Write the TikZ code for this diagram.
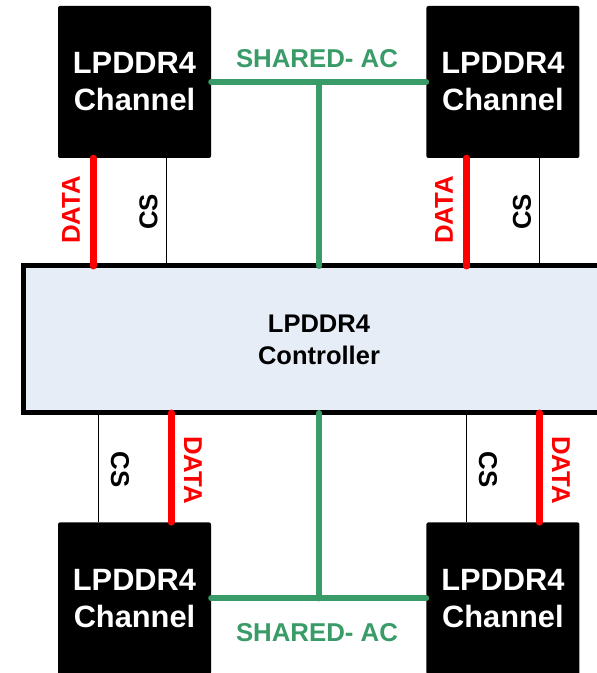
\documentclass[tikz,border=0pt]{standalone}
\usepackage{fontspec}
\setmainfont{Liberation Sans}
\usetikzlibrary{positioning}
\definecolor{acgreen}{RGB}{56,155,104}
\definecolor{datared}{RGB}{255,0,0}
\definecolor{ctrlfill}{RGB}{230,237,247}

\begin{document}
\begin{tikzpicture}[
    x=1pt, y=1pt,
    chanbox/.style={rectangle, rounded corners=2pt, fill=black, text=white,
                    align=center, font=\fontsize{30.8}{37}\selectfont\bfseries,
                    minimum width=153pt, minimum height=152pt, inner sep=0pt},
    ctrlbox/.style={rectangle, draw=black, line width=5pt, fill=ctrlfill,
                    align=center, font=\fontsize{25.5}{32}\selectfont\bfseries,
                    minimum width=592pt, minimum height=147pt, outer sep=0pt},
    datal/.style={draw=datared, line width=7pt, line cap=round},
    csl/.style={draw=black, line width=0.8pt},
    aclink/.style={draw=acgreen, line width=6pt, line cap=round},
    lbl/.style={font=\fontsize{25.8}{30}\selectfont\bfseries, inner sep=0pt},
]
\useasboundingbox (0,0) rectangle (597,673);

\node[ctrlbox] (ctrl) at (319,333.5) {LPDDR4\\Controller};

\node[chanbox] (tlch) at (134.5,591) {LPDDR4\\Channel};
\node[chanbox, right=215pt of tlch] (trch) {LPDDR4\\Channel};
\node[chanbox, below=364pt of tlch] (blch) {LPDDR4\\Channel};
\node[chanbox, right=215pt of blch] (brch) {LPDDR4\\Channel};

% shared address/command bus, top and bottom pair
\draw[aclink] (tlch.east) -- (trch.west);
\draw[aclink] (ctrl.north) -- (ctrl.north |- tlch.east);
\draw[aclink] (blch.east) -- (brch.west);
\draw[aclink] (ctrl.south) -- (ctrl.south |- blch.east);

% data and chip select per channel
\draw[datal] ([xshift=-41.5pt]tlch.south) -- ([xshift=-41.5pt]tlch.south |- ctrl.north);
\draw[csl]   ([xshift=31.5pt]tlch.south) -- ([xshift=31.5pt]tlch.south |- ctrl.north);
\draw[datal] ([xshift=-36.5pt]trch.south) -- ([xshift=-36.5pt]trch.south |- ctrl.north);
\draw[csl]   ([xshift=36.5pt]trch.south) -- ([xshift=36.5pt]trch.south |- ctrl.north);
\draw[csl]   ([xshift=-36.5pt]blch.north) -- ([xshift=-36.5pt]blch.north |- ctrl.south);
\draw[datal] ([xshift=36.5pt]blch.north) -- ([xshift=36.5pt]blch.north |- ctrl.south);
\draw[csl]   ([xshift=-36.5pt]brch.north) -- ([xshift=-36.5pt]brch.north |- ctrl.south);
\draw[datal] ([xshift=36.5pt]brch.north) -- ([xshift=36.5pt]brch.north |- ctrl.south);

\node[lbl, text=acgreen] (topac) at (317,614) {SHARED- AC};
\node[lbl, text=acgreen] (botac) at (317,40.5) {SHARED- AC};

\node[lbl, text=datared, rotate=90] (tldata) at (71,463) {DATA};
\node[lbl, rotate=90] (tlcs) at (148.5,461) {CS};
\node[lbl, text=datared, rotate=90] (trdata) at (444,463) {DATA};
\node[lbl, rotate=90] (trcs) at (522,461) {CS};
\node[lbl, rotate=-90] (blcs) at (120,203.5) {CS};
\node[lbl, text=datared, rotate=-90] (bldata) at (193,203) {DATA};
\node[lbl, rotate=-90] (brcs) at (488,203.5) {CS};
\node[lbl, text=datared, rotate=-90] (brdata) at (561,203) {DATA};

\end{tikzpicture}
\end{document}
